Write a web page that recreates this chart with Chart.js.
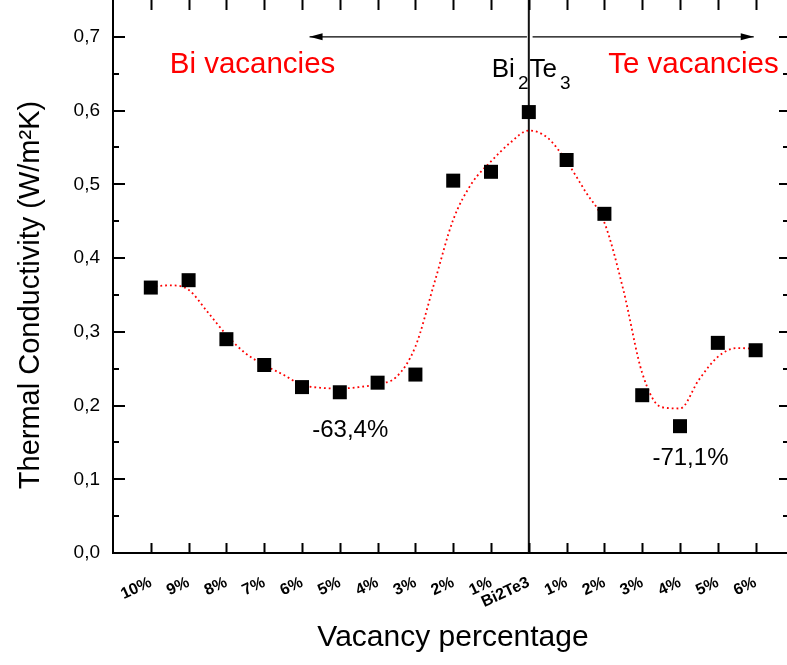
<!DOCTYPE html>
<html>
<head>
<meta charset="utf-8">
<script src="https://cdn.jsdelivr.net/npm/chart.js@4.4.0/dist/chart.umd.min.js"></script>
<style>
  body { margin: 0; background: #fff; }
</style>
</head>
<body>
<canvas id="thermalChart" width="787" height="665"></canvas>
<script>
// categories along the x axis (Bi vacancies on the left, Te vacancies on the right)
const categories = ["10%", "9%", "8%", "7%", "6%", "5%", "4%", "3%", "2%", "1%",
  "Bi2Te3", "1%", "2%", "3%", "4%", "5%", "6%"];

// measured thermal conductivity (W/m2K)
const conductivity = [0.360, 0.370, 0.290, 0.255, 0.225, 0.218, 0.231, 0.242, 0.505, 0.517,
  0.598, 0.533, 0.460, 0.214, 0.172, 0.285, 0.275];

// red dotted fit curve at every half category
const fitPositions = [0, 0.5, 1, 1.5, 2, 2.5, 3, 3.5, 4, 4.5, 5, 5.5, 6, 6.5, 7, 7.5, 8,
  8.5, 9, 9.5, 10, 10.5, 11, 11.5, 12, 12.5, 13, 13.5, 14, 14.5, 15, 15.5, 16];
const fitValues = [0.361, 0.363, 0.357, 0.327, 0.296, 0.271, 0.255, 0.242, 0.228, 0.224, 0.223,
  0.225, 0.229, 0.239, 0.280, 0.366, 0.452, 0.502, 0.531, 0.556, 0.573, 0.563, 0.531,
  0.490, 0.448, 0.357, 0.244, 0.198, 0.196, 0.235, 0.266, 0.278, 0.277];

const yTicks = [0, 0.1, 0.2, 0.3, 0.4, 0.5, 0.6, 0.7];
const yMinorTicks = [0.05, 0.15, 0.25, 0.35, 0.45, 0.55, 0.65];

// reference line at pure Bi2Te3 and the two direction arrows
const pureIndex = 10;
const arrowLevel = 0.7;
const leftArrow = [9.95, 4.2];
const rightArrow = [10.1, 15.95];

const FONT = "'Liberation Sans', Arial, sans-serif";

const points = categories.map((c, i) => ({ x: i, y: conductivity[i] }));
const fit = fitPositions.map((p, i) => ({ x: p, y: fitValues[i] }));

// texts placed in data units
const notes = [
  { text: "Bi vacancies", x: 0.5, y: 0.651, color: "#ff0000", size: 29.5 },
  { text: "Te vacancies", x: 12.1, y: 0.651, color: "#ff0000", size: 29.5 },
  { text: "-63,4%", x: 4.27, y: 0.157, color: "#000", size: 24 },
  { text: "-71,1%", x: 13.27, y: 0.119, color: "#000", size: 24 },
];

const noPadding = (scale) => {
  scale.paddingTop = 0;
  scale.paddingBottom = 0;
  scale.paddingLeft = 0;
  scale.paddingRight = 0;
};

const framePlugin = {
  id: "framePlugin",
  afterDatasetsDraw(chart) {
    const { ctx, scales: { x, y } } = chart;
    const yp = y.getPixelForValue(arrowLevel);
    ctx.save();
    ctx.fillStyle = "#000";
    [leftArrow, rightArrow].forEach(([from, to]) => {
      const tip = x.getPixelForValue(to);
      const dir = Math.sign(to - from);
      ctx.beginPath();
      ctx.moveTo(tip, yp);
      ctx.lineTo(tip - dir * 13, yp - 3.5);
      ctx.lineTo(tip - dir * 13, yp + 3.5);
      ctx.closePath();
      ctx.fill();
    });
    ctx.restore();
  },
  afterDraw(chart) {
    const { ctx, chartArea: a, scales: { x, y } } = chart;
    ctx.save();
    ctx.strokeStyle = "#000";
    ctx.lineWidth = 2;
    ctx.beginPath();
    categories.forEach((c, i) => {
      const px = Math.round(x.getPixelForValue(i)) + 0.5;
      ctx.moveTo(px, a.bottom); ctx.lineTo(px, a.bottom - 10);
      ctx.moveTo(px, a.top); ctx.lineTo(px, a.top + 10);
    });
    yTicks.forEach(v => {
      const py = Math.round(y.getPixelForValue(v));
      ctx.moveTo(a.left, py); ctx.lineTo(a.left + 12, py);
      ctx.moveTo(a.right, py); ctx.lineTo(a.right - 8, py);
    });
    yMinorTicks.forEach(v => {
      const py = Math.round(y.getPixelForValue(v));
      ctx.moveTo(a.left, py); ctx.lineTo(a.left + 6, py);
      ctx.moveTo(a.right, py); ctx.lineTo(a.right - 4, py);
    });
    ctx.stroke();

    // annotations
    ctx.textBaseline = "alphabetic";
    ctx.textAlign = "left";
    notes.forEach(n => {
      ctx.fillStyle = n.color;
      ctx.font = n.size + "px " + FONT;
      ctx.fillText(n.text, x.getPixelForValue(n.x), y.getPixelForValue(n.y));
    });

    // Bi2Te3 with subscripts
    ctx.fillStyle = "#000";
    let bx = x.getPixelForValue(9.02);
    const by = y.getPixelForValue(0.646);
    [["Bi", 26, 0, 3], ["2", 19, 12, 1], ["Te", 26, 0, 3], ["3", 19, 12, 0]].forEach(([t, s, dy, gap]) => {
      ctx.font = s + "px " + FONT;
      ctx.fillText(t, bx, by + dy);
      bx += ctx.measureText(t).width + gap;
    });

    // axis titles
    ctx.font = "30px " + FONT;
    ctx.textAlign = "center";
    ctx.textBaseline = "middle";
    ctx.fillText("Vacancy percentage", 453, 638);
    ctx.font = "29px " + FONT;
    ctx.translate(31, 295);
    ctx.rotate(-Math.PI / 2);
    ctx.fillText("Thermal Conductivity (W/m\u00B2K)", 0, 0);
    ctx.restore();
  }
};

new Chart(document.getElementById("thermalChart"), {
  type: "scatter",
  data: {
    datasets: [
      {
        label: "Thermal conductivity",
        data: points,
        pointStyle: "rect",
        pointRadius: 9.9,
        backgroundColor: "#000",
        borderWidth: 0,
        order: 0,
      },
      {
        type: "line",
        label: "Fit",
        data: fit,
        borderColor: "#ff0000",
        borderWidth: 1.8,
        borderDash: [1.8, 3],
        cubicInterpolationMode: "monotone",
        pointRadius: 0,
        fill: false,
        order: 1,
      },
      {
        type: "line",
        label: "Bi2Te3",
        data: [{ x: pureIndex, y: 0 }, { x: pureIndex, y: 0.75 }],
        borderColor: "#111",
        borderWidth: 2,
        pointRadius: 0,
        order: 2,
      },
      {
        type: "line",
        label: "left arrow",
        data: leftArrow.map(v => ({ x: v, y: arrowLevel })),
        borderColor: "#000",
        borderWidth: 1.3,
        pointRadius: 0,
        order: 3,
      },
      {
        type: "line",
        label: "right arrow",
        data: rightArrow.map(v => ({ x: v, y: arrowLevel })),
        borderColor: "#000",
        borderWidth: 1.3,
        pointRadius: 0,
        order: 3,
      },
    ],
  },
  options: {
    responsive: false,
    devicePixelRatio: 1,
    animation: false,
    events: [],
    layout: { padding: 0, autoPadding: false },
    plugins: {
      legend: { display: false },
      tooltip: { enabled: false },
    },
    scales: {
      x: {
        type: "linear",
        min: -1,
        max: 16.83,
        afterBuildTicks: (scale) => { scale.ticks = categories.map((c, i) => ({ value: i })); },
        afterFit: (scale) => { scale.height = 112; noPadding(scale); },
        ticks: {
          callback: (v) => categories[v],
          font: { family: FONT, size: 16, weight: "bold" },
          color: "#000",
          autoSkip: false,
          minRotation: 25,
          maxRotation: 25,
          padding: 20,
        },
        grid: { display: false, drawTicks: false },
        border: { display: true, color: "#000", width: 2 },
      },
      y: {
        min: 0,
        max: 0.75,
        afterBuildTicks: (scale) => { scale.ticks = yTicks.map(v => ({ value: v })); },
        afterFit: (scale) => { scale.width = 113; noPadding(scale); },
        ticks: {
          callback: (v) => v.toFixed(1).replace(".", ","),
          font: { family: FONT, size: 19 },
          color: "#000",
          padding: 13,
        },
        grid: { display: false, drawTicks: false },
        border: { display: true, color: "#000", width: 2 },
      },
    },
  },
  plugins: [framePlugin],
});
</script>
</body>
</html>
